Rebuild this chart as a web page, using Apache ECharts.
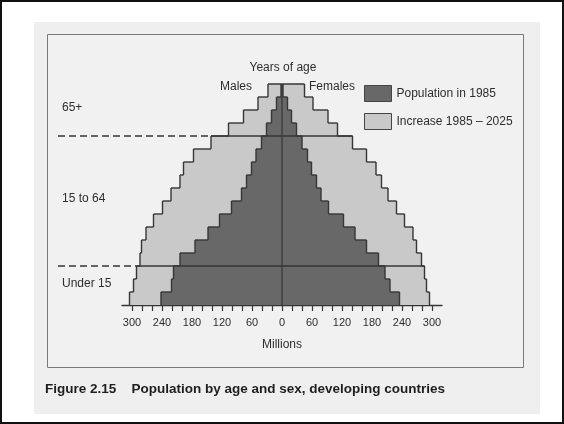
<!DOCTYPE html>
<html><head><meta charset="utf-8">
<script src="https://cdn.jsdelivr.net/npm/echarts@6/dist/echarts.min.js"></script>
<style>html,body{margin:0;padding:0;background:#fff}#c{width:564px;height:424px}</style>
</head><body><div id="c"></div>
<script>
// Age groups, bottom (0-4) to top (80+)
const ageGroups = ['0-4','5-9','10-14','15-19','20-24','25-29','30-34','35-39','40-44','45-49','50-54','55-59','60-64','65-69','70-74','75-79','80+'];
// Millions, same order as ageGroups
const male1985       = [242,221,217,204,174,148,125,101,81,71,61,52,41,31,21,11,2];
const maleIncrease   = [63,76,74,80,107,124,132,138,141,133,136,125,101,76,56,37,26];
const female1985     = [235,216,206,193,169,146,123,93,78,69,59,51,40,29,19,11,2];
const femaleIncrease = [60,73,79,86,100,116,122,136,134,130,129,118,101,82,73,51,43];
// Broad age bands (first/last age-group index in each)
const groupLabels = ['Under 15','15 to 64','65+'];
const groupStart  = [0,3,13];
const groupEnd    = [2,12,16];
// Axis ticks and labels
const tickValues  = [-300,-280,-260,-240,-220,-200,-180,-160,-140,-120,-100,-80,-60,-40,-20,0,20,40,60,80,100,120,140,160,180,200,220,240,260,280,300];
const labelValues = [-300,-240,-180,-120,-60,0,60,120,180,240,300];
const tickLabels  = ['300','240','180','120','60','0','60','120','180','240','300'];

const FONT = '"Liberation Sans", Arial, sans-serif';
const DARK = '#686868', LIGHT = '#c9c9c9', INK = '#363636', TXT = '#2e2e2e';
const n = ageGroups.length;
const mTot = i => male1985[i] + maleIncrease[i];
const fTot = i => female1985[i] + femaleIncrease[i];

function seg(x1, y1, x2, y2, w, dash) {
  return {type:'line', shape:{x1, y1, x2, y2},
    style:{stroke:INK, lineWidth:w || 1.4, lineDash: dash || null}};
}

function outlineItem(params, api) {
  const i = params.dataIndex;
  const c = api.coord([0, i]);
  const h = api.size([0, 1])[1];
  const top = c[1] - h / 2, bot = c[1] + h / 2;
  const X = v => api.coord([v, i])[0];
  const kids = [];
  const vals = [-mTot(i), -male1985[i], female1985[i], fTot(i)];
  vals.forEach(v => kids.push(seg(X(v), top, X(v), bot)));
  kids.push(seg(X(0), top, X(0), bot, 1.2));
  if (i + 1 < n) {
    const up = [-mTot(i+1), -male1985[i+1], female1985[i+1], fTot(i+1)];
    vals.forEach((v, k) => kids.push(seg(X(v), top, X(up[k]), top)));
  } else {
    kids.push(seg(X(-mTot(i)), top, X(fTot(i)), top));
  }
  return {type:'group', children:kids};
}

function groupItem(params, api) {
  const g = params.dataIndex;
  const h = api.size([0, 1])[1];
  const yTop = api.coord([0, groupEnd[g]])[1] - h / 2;
  const yBot = api.coord([0, groupStart[g]])[1] + h / 2;
  const kids = [{type:'text', style:{text:groupLabels[g], x:62, y:(yTop + yBot) / 2 - 2,
    verticalAlign:'middle', align:'left', fill:TXT, font:'12px ' + FONT}}];
  const s = groupStart[g];
  if (s > 0) {
    const mMax = Math.max(mTot(s), mTot(s - 1));
    const fMax = Math.max(fTot(s), fTot(s - 1));
    const xl = api.coord([-mMax, s])[0];
    const xr = api.coord([fMax, s])[0];
    kids.push(seg(58, yBot, xl, yBot, 1.5, [7, 4]));
    kids.push(seg(xl, yBot, xr, yBot, 1.4));
  }
  return {type:'group', children:kids};
}

const chart = echarts.init(document.getElementById('c'), null, {renderer:'canvas'});
const barBase = {type:'bar', barWidth:'100%', barGap:'-100%', barCategoryGap:'0%', silent:true, animation:false};
chart.setOption({
  backgroundColor:'#ffffff',
  animation:false,
  textStyle:{fontFamily:FONT},
  grid:{left:122, width:320, top:84, height:221, containLabel:false},
  legend:{
    data:['Population in 1985','Increase 1985 – 2025'],
    orient:'vertical', left:359, top:80, itemWidth:27, itemHeight:16, itemGap:11,
    icon:'rect', selectedMode:false,
    itemStyle:{borderColor:'#444', borderWidth:1},
    textStyle:{fontSize:12, color:TXT, fontFamily:FONT}
  },
  xAxis:{
    type:'value', min:-320, max:320,
    axisLine:{show:true, lineStyle:{color:INK, width:1.3}},
    axisTick:{show:true, customValues:tickValues, length:6, inside:false, lineStyle:{color:INK, width:1.2}},
    axisLabel:{customValues:labelValues, formatter:(v) => tickLabels[labelValues.indexOf(v)],
      fontSize:11, color:TXT, margin:12, fontFamily:FONT},
    splitLine:{show:false},
    name:'Millions', nameLocation:'middle', nameGap:34,
    nameTextStyle:{fontSize:12, color:TXT, fontFamily:FONT}
  },
  yAxis:{type:'category', data:ageGroups, show:false, boundaryGap:true},
  graphic:{elements:[
    {type:'rect', z:-10, silent:true, shape:{x:1, y:1, width:562, height:422}, style:{fill:'#ffffff', stroke:'#111', lineWidth:2}},
    {type:'rect', z:-9, silent:true, shape:{x:34, y:22, width:506, height:392}, style:{fill:'#efefef'}},
    {type:'rect', z:-8, silent:true, shape:{x:47.5, y:34.5, width:476, height:333}, style:{fill:'#f1f1f1', stroke:'#7a7a7a', lineWidth:1}},
    {type:'text', z:10, style:{text:'Years of age', x:283, y:68, align:'center', verticalAlign:'middle', fill:TXT, font:'12px ' + FONT}},
    {type:'text', z:10, style:{text:'Males', x:236, y:87, align:'center', verticalAlign:'middle', fill:TXT, font:'12px ' + FONT}},
    {type:'text', z:10, style:{text:'Females', x:332, y:87, align:'center', verticalAlign:'middle', fill:TXT, font:'12px ' + FONT}},
    {type:'text', z:10, style:{text:'Figure 2.15', x:45, y:389, align:'left', verticalAlign:'middle', fill:'#1e1e1e', font:'bold 13.5px ' + FONT}},
    {type:'text', z:10, style:{text:'Population by age and sex, developing countries', x:131.5, y:389, align:'left', verticalAlign:'middle', fill:'#1e1e1e', font:'bold 13.5px ' + FONT}}
  ]},
  series:[
    Object.assign({}, barBase, {name:'Population in 1985', stack:'m', data:male1985.map(v => -v), itemStyle:{color:DARK}}),
    Object.assign({}, barBase, {name:'Increase 1985 – 2025', stack:'m', data:maleIncrease.map(v => -v), itemStyle:{color:LIGHT}}),
    Object.assign({}, barBase, {name:'Population in 1985', stack:'f', data:female1985, itemStyle:{color:DARK}}),
    Object.assign({}, barBase, {name:'Increase 1985 – 2025', stack:'f', data:femaleIncrease, itemStyle:{color:LIGHT}}),
    {type:'custom', name:'outline', silent:true, clip:false, z:5, renderItem:outlineItem,
      data:ageGroups.map((g, i) => [0, i]), encode:{x:0, y:1}},
    {type:'custom', name:'groups', silent:true, clip:false, z:6, renderItem:groupItem,
      data:groupLabels.map((g, i) => [0, groupStart[i]]), encode:{x:0, y:1}}
  ]
});
</script></body></html>
